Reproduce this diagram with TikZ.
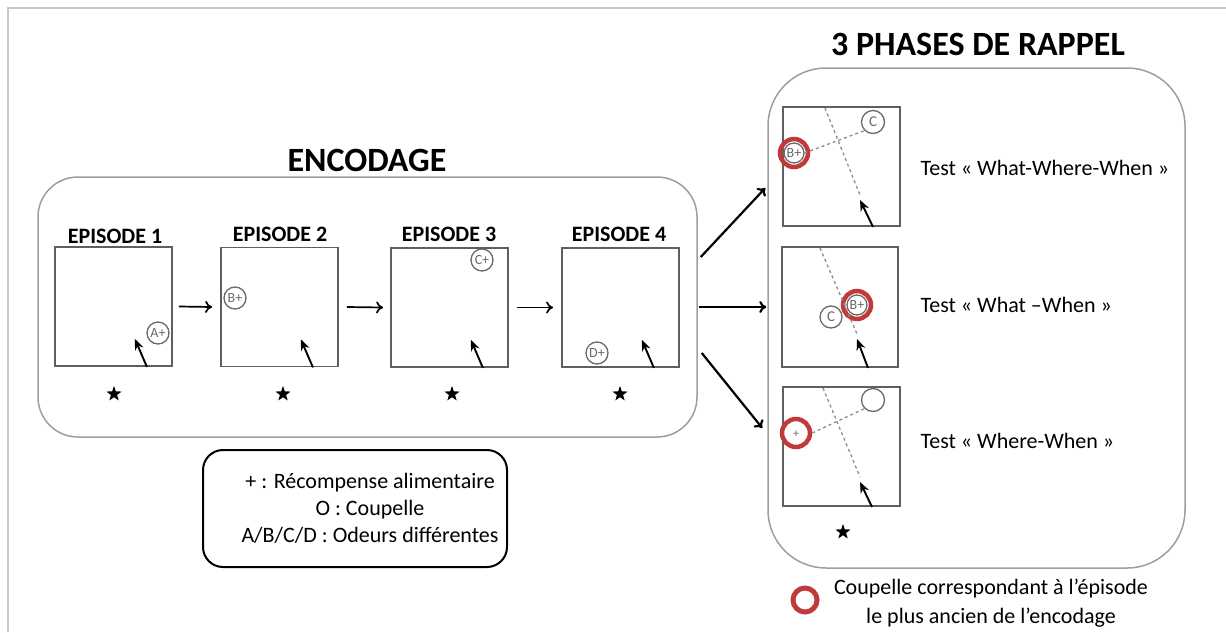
\documentclass[tikz,border=0pt]{standalone}
\usepackage{fontspec}
\setmainfont{Carlito}
\usetikzlibrary{arrows.meta,shapes.geometric}
\definecolor{ringred}{RGB}{193,58,58}
\definecolor{boxgray}{RGB}{158,158,158}
\definecolor{framegray}{RGB}{200,200,200}
\definecolor{arenagray}{RGB}{95,95,95}
\definecolor{cupgray}{RGB}{105,105,105}
\definecolor{routegray}{RGB}{140,140,140}
\begin{document}
\begin{tikzpicture}[x=1pt,y=-1pt,
  bigbox/.style={draw=boxgray, line width=1.5pt},
  arena/.style={draw=arenagray, line width=1.8pt, minimum width=117pt, minimum height=119pt, inner sep=0pt},
  eplabel/.style={font=\bfseries\fontsize{22}{24}\selectfont},
  title/.style={font=\bfseries\fontsize{34}{36}\selectfont},
  cup/.style={circle, draw=cupgray, line width=1.3pt, minimum size=22pt, inner sep=0pt, font=\fontsize{14}{14}\selectfont, text=cupgray},
  ring/.style={circle, draw=ringred, line width=4.5pt, minimum size=28pt, inner sep=0pt},
  route/.style={draw=routegray, line width=1.3pt, dash pattern=on 3pt off 3pt},
  ratarrow/.style={-{Stealth[length=11pt,width=9pt]}, line width=1.9pt},
  seqarrow/.style={-{To[length=7pt,width=12pt]}, line width=1.7pt},
  bigarrow/.style={-{To[length=7pt,width=12pt]}, line width=2.2pt},
  startstar/.style={star, star points=5, star point ratio=2.5, fill=black, minimum size=16pt, inner sep=0pt},
  txt/.style={font=\fontsize{22}{27}\selectfont}
]
\useasboundingbox (0,0) rectangle (1226,632);
% frame
\draw[framegray, line width=2pt] (8,632) -- (8,8) -- (1226,8);

% titles
\node[title] (ttlrap) at (978,44) {3 PHASES DE RAPPEL};
\node[title] (ttlenc) at (367,160) {ENCODAGE};

% big boxes
\node[bigbox, rounded corners=40pt, minimum width=659pt, minimum height=260pt] (enc) at (367.5,307) {};
\node[bigbox, rounded corners=58pt, minimum width=417pt, minimum height=500pt] (rap) at (976.5,318) {};

% episodes
\node[arena] (e1) at (113.5,306.5) {};
\node[arena] (e2) at (279.5,307) {};
\node[arena] (e3) at (449.5,307.5) {};
\node[arena] (e4) at (620.5,307.5) {};
\node[eplabel] (l1) at (115,236) {EPISODE 1};
\node[eplabel] (l2) at (280,234) {EPISODE 2};
\node[eplabel] (l3) at (449,234) {EPISODE 3};
\node[eplabel] (l4) at (619,234) {EPISODE 4};
\foreach \e in {e1,e2,e3,e4}{
  \draw[ratarrow] ([xshift=-26pt]\e.south east) -- ([xshift=-38pt,yshift=28pt]\e.south east);
}
\node[cup] (ca) at (158,333) {A+};
\node[cup] (cb) at (235,298) {B+};
\node[cup] (cc) at (482,260) {C+};
\node[cup] (cd) at (597,353) {D+};
\node[startstar] (s1) at (114,394) {};
\node[startstar] (s2) at (283,394) {};
\node[startstar] (s3) at (452,394) {};
\node[startstar] (s4) at (620,394) {};
\draw[seqarrow] ([xshift=6pt]e1.east) -- ([xshift=-8pt]e2.west);
\draw[seqarrow] ([xshift=8pt]e2.east) -- ([xshift=-7pt]e3.west);
\draw[seqarrow] ([xshift=8pt]e3.east) -- ([xshift=-8pt]e4.west);

% arrows to recall
\draw[bigarrow] ([xshift=3pt,yshift=50pt]enc.east) -- ([xshift=-2pt,yshift=130pt]rap.west);
\draw[bigarrow] ([xshift=1pt]enc.east) -- ([xshift=-1pt,yshift=11pt]rap.west);
\draw[bigarrow] ([xshift=4pt,yshift=-46pt]enc.east) -- ([xshift=-5pt,yshift=-110pt]rap.west);

% recall arenas
\node[arena] (r1) at (841.5,166.5) {};
\node[arena, minimum width=116pt, minimum height=120pt] (r2) at (840,307) {};
\node[arena] (r3) at (841.5,446.5) {};

% test 1
\coordinate (r1top) at (825,108);
\coordinate (r1head) at (860,200);
\node[cup, minimum size=23pt, font=\fontsize{15}{15}\selectfont] (r1c) at (873,122) {C};
\node[cup, minimum size=20pt] (r1b) at (794,153) {B+};
\node[ring] (r1ring) at (794,153) {};
\draw[route] (r1top) -- ([yshift=5pt]r1head);
\draw[route] (r1b.east) -- (r1c.south west);
\draw[ratarrow] (r1.south -| 873,0) -- (r1head);

% test 2
\coordinate (r2top) at (820,248);
\coordinate (r2head) at (857,339);
\node[cup, minimum size=22pt, font=\fontsize{15}{15}\selectfont] (r2c) at (831,317) {C};
\node[cup, minimum size=20pt] (r2b) at (857,305) {B+};
\node[ring] (r2ring) at (857,305) {};
\draw[route] (r2top) -- ([yshift=5pt]r2head);
\draw[ratarrow] (r2.south -| 868,0) -- (r2head);

% test 3
\coordinate (r3top) at (823,388);
\coordinate (r3head) at (860,482);
\node[cup, minimum size=23pt] (r3c) at (873,400) {};
\node[font=\fontsize{12}{12}\selectfont, text=cupgray, inner sep=0pt] (r3plus) at (796,434) {+};
\node[ring] (r3ring) at (796,433) {};
\draw[route] (r3top) -- ([yshift=5pt]r3head);
\draw[route] (r3ring.east) -- (r3c.south west);
\draw[ratarrow] (r3.south -| 872,0) -- (r3head);
\node[startstar] (s5) at (843,532) {};

% test labels
\node[txt, anchor=west] (t1) at (917,168) {Test « What-Where-When »};
\node[txt, anchor=west] (t2) at (917,305) {Test « What –When »};
\node[txt, anchor=west] (t3) at (917,441) {Test « Where-When »};

% legend
\node[draw=black, line width=2pt, rounded corners=20pt, minimum width=304pt, minimum height=117pt] (leg) at (355,508.5) {};
\node[txt, align=center] (legtxt) at (370,508) {+ : Récompense alimentaire\\O : Coupelle\\A/B/C/D : Odeurs différentes};

% bottom note
\node[ring, line width=5pt, minimum size=24pt] (noteRing) at (805,600) {};
\node[txt, align=center, font=\fontsize{22}{29}\selectfont] (note) at (991,603) {Coupelle correspondant à l’épisode\\le plus ancien de l’encodage};
\end{tikzpicture}
\end{document}
